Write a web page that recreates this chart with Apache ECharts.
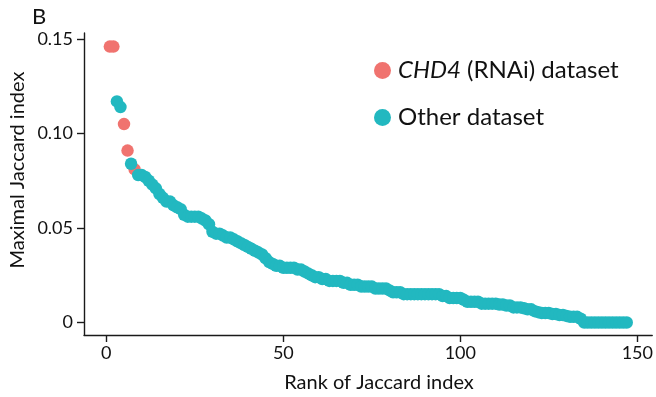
<!DOCTYPE html>
<html>
<head>
<meta charset="utf-8">
<script src="https://cdn.jsdelivr.net/npm/echarts@6/dist/echarts.min.js"></script>
<style>html,body{margin:0;padding:0;background:#fff}#c{width:656px;height:397px}</style>
</head>
<body>
<div id="c"></div>
<script>
// Maximal Jaccard index by rank (rank = index + 1)
var jaccardValues = [
  0.146, 0.146, 0.117, 0.114, 0.105, 0.091, 0.084, 0.081, 0.078, 0.078,
  0.077, 0.075, 0.073, 0.071, 0.068, 0.066, 0.064, 0.064, 0.062, 0.061,
  0.060, 0.057, 0.056, 0.056, 0.056, 0.056, 0.055, 0.054, 0.052, 0.048,
  0.047, 0.047, 0.046, 0.045, 0.045, 0.044, 0.043, 0.042, 0.041, 0.040,
  0.039, 0.038, 0.037, 0.036, 0.034, 0.032, 0.031, 0.030, 0.030, 0.029,
  0.029, 0.029, 0.029, 0.028, 0.028, 0.027, 0.026, 0.025, 0.024, 0.024,
  0.023, 0.023, 0.022, 0.022, 0.022, 0.022, 0.021, 0.021, 0.020, 0.020,
  0.020, 0.019, 0.019, 0.019, 0.019, 0.018, 0.018, 0.018, 0.018, 0.017,
  0.016, 0.016, 0.016, 0.015, 0.015, 0.015, 0.015, 0.015, 0.015, 0.015,
  0.015, 0.015, 0.015, 0.015, 0.014, 0.014, 0.013, 0.013, 0.013, 0.013,
  0.012, 0.011, 0.011, 0.011, 0.011, 0.010, 0.010, 0.010, 0.010, 0.010,
  0.0095, 0.0095, 0.009, 0.009, 0.008, 0.008, 0.008, 0.0075, 0.007, 0.007,
  0.006, 0.0055, 0.005, 0.005, 0.005, 0.0045, 0.0045, 0.004, 0.004, 0.0035,
  0.003, 0.003, 0.003, 0.002, 0, 0, 0, 0, 0, 0,
  0, 0, 0, 0, 0, 0, 0
];
// Ranks belonging to the CHD4 (RNAi) dataset
var chd4Ranks = [1, 2, 5, 6, 8];
var seriesNames = ['CHD4 (RNAi) dataset', 'Other dataset'];
var xTicks = [0, 50, 100, 150];
var yTicks = [0, 0.05, 0.10, 0.15];

var chd4Data = [], otherData = [];
jaccardValues.forEach(function (v, i) {
  var r = i + 1;
  if (chd4Ranks.indexOf(r) >= 0) chd4Data.push([r, v]); else otherData.push([r, v]);
});

var FONT = 'Lato';
var chart = echarts.init(document.getElementById('c'), null, {renderer: 'canvas'});
chart.setOption({
  animation: false,
  backgroundColor: '#fff',
  grid: {left: 84, right: 3, top: 33, bottom: 62, containLabel: false},
  xAxis: {
    type: 'value', min: -6.3, max: 154.2,
    splitLine: {show: false},
    axisLine: {show: true, onZero: false, lineStyle: {color: '#1a1a1a', width: 1.4}},
    axisTick: {show: true, length: 7, customValues: xTicks, lineStyle: {color: '#1a1a1a', width: 1.4}},
    axisLabel: {customValues: xTicks, margin: 9, fontSize: 18, color: '#111', fontFamily: FONT}
  },
  yAxis: {
    type: 'value', min: -0.0066, max: 0.1532,
    splitLine: {show: false},
    axisLine: {show: true, onZero: false, lineStyle: {color: '#1a1a1a', width: 1.4}},
    axisTick: {show: true, length: 7, customValues: yTicks, lineStyle: {color: '#1a1a1a', width: 1.4}},
    axisLabel: {customValues: yTicks, margin: 11, fontSize: 18, color: '#111', fontFamily: FONT,
      formatter: function (v) { return v === 0 ? '0' : v.toFixed(2); }}
  },
  legend: {
    orient: 'vertical', left: 369, top: 51, icon: 'circle',
    itemWidth: 17, itemHeight: 17, itemGap: 18,
    data: seriesNames,
    formatter: function (n) { return n === seriesNames[0] ? '{i|CHD4} (RNAi) dataset' : n; },
    textStyle: {fontSize: 24, color: '#111', fontFamily: FONT, lineHeight: 29, padding: [0, 0, 0, 2],
      rich: {i: {fontStyle: 'italic', fontSize: 24, fontFamily: FONT, color: '#111'}}}
  },
  graphic: [
    {type: 'text', x: 39, y: 17, style: {text: 'B', fontSize: 22, fontFamily: FONT, fill: '#111', textAlign: 'center', textVerticalAlign: 'middle'}},
    {type: 'text', x: 18, y: 170, rotation: Math.PI / 2, style: {text: 'Maximal Jaccard index', fontSize: 20, fontFamily: FONT, fill: '#111', textAlign: 'center', textVerticalAlign: 'middle'}},
    {type: 'text', x: 379, y: 383, style: {text: 'Rank of Jaccard index', fontSize: 20, fontFamily: FONT, fill: '#111', textAlign: 'center', textVerticalAlign: 'middle'}}
  ],
  series: [
    {name: seriesNames[0], type: 'scatter', data: chd4Data, symbolSize: 12.5,
      itemStyle: {color: '#F0736F', opacity: 1}},
    {name: seriesNames[1], type: 'scatter', data: otherData, symbolSize: 12.5,
      itemStyle: {color: '#22B8C0', opacity: 1}}
  ]
});
</script>
</body>
</html>
